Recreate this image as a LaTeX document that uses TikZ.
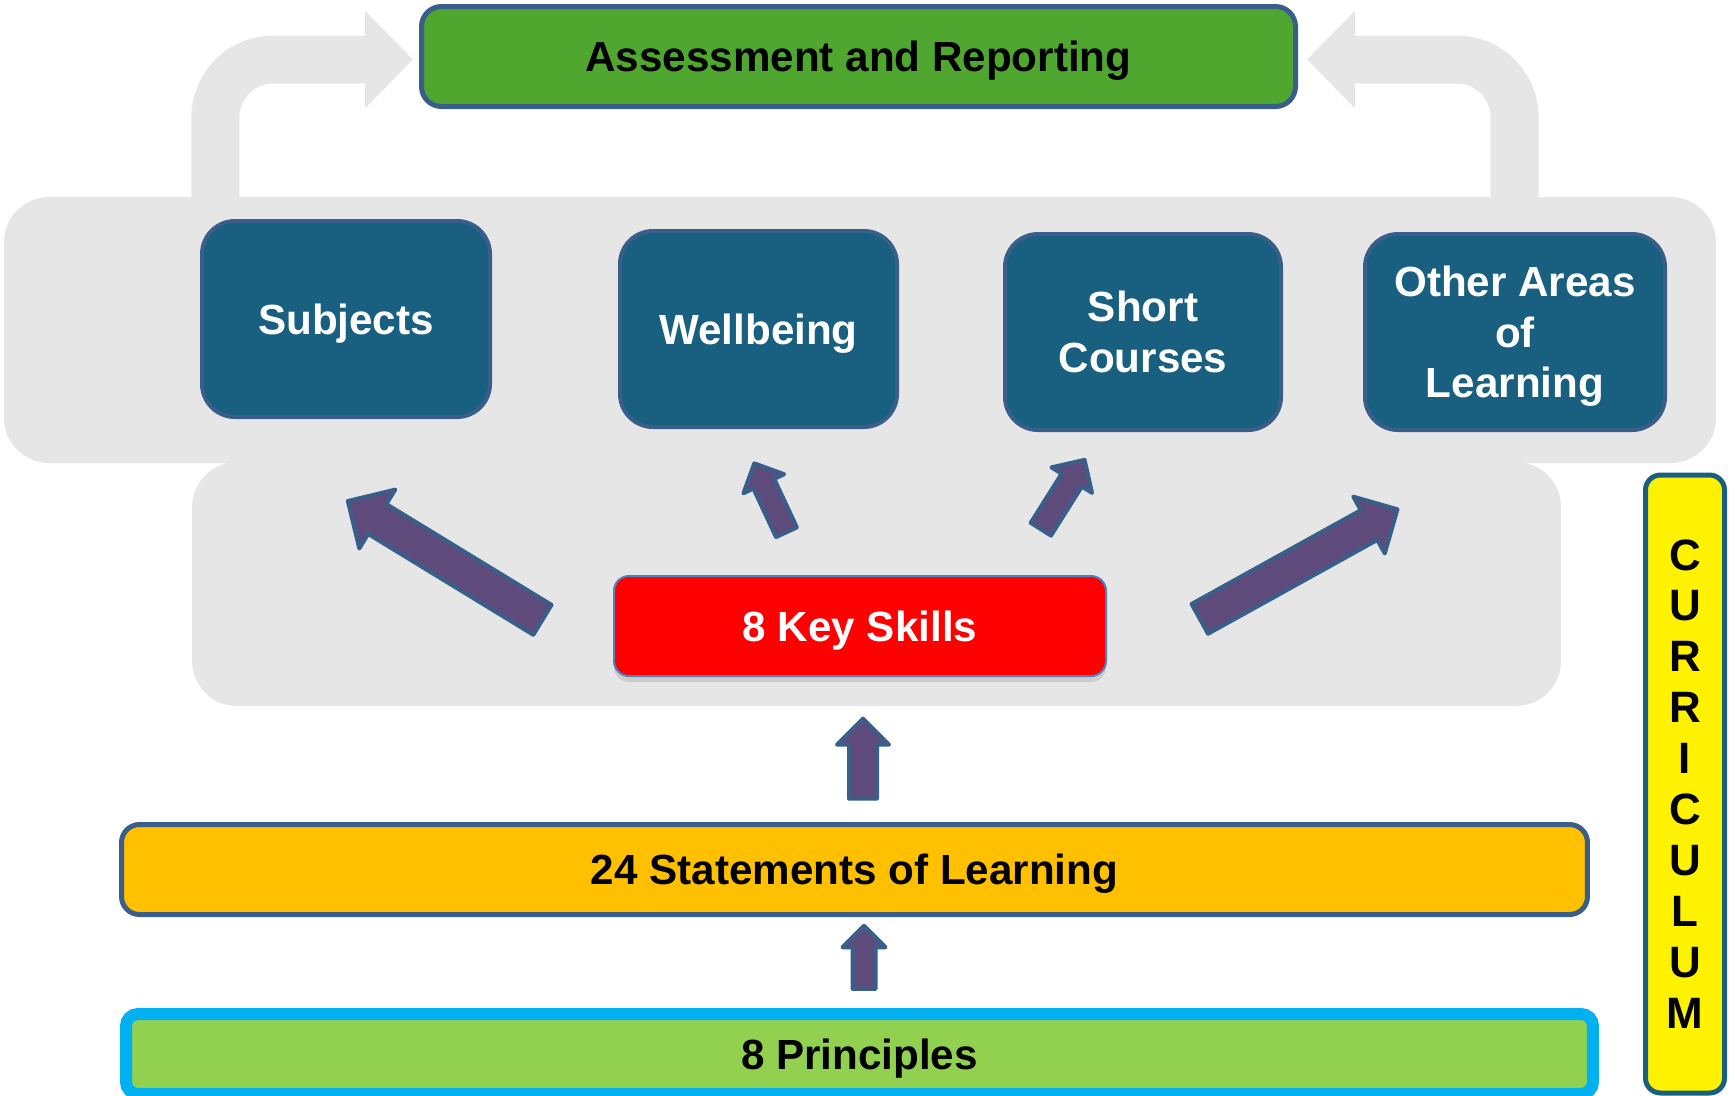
\documentclass[tikz,border=0pt]{standalone}
\usepackage{fontspec}
\setmainfont{Liberation Sans}
\usetikzlibrary{arrows.meta,shapes.arrows,shadows}
\definecolor{panelgray}{RGB}{231,230,230}
\definecolor{edgeblue}{RGB}{58,94,138}
\definecolor{areablue}{RGB}{24,95,128}
\definecolor{assessgreen}{RGB}{79,167,48}
\definecolor{arrowpurple}{RGB}{95,75,123}
\definecolor{solorange}{RGB}{255,192,0}
\definecolor{princgreen}{RGB}{146,208,80}
\definecolor{princcyan}{RGB}{0,176,240}
\definecolor{skilledge}{RGB}{79,129,189}
\definecolor{currteal}{RGB}{26,95,128}
\begin{document}
\begin{tikzpicture}[x=0.1mm, y=-0.1mm,
  txt/.style={font=\bfseries\fontsize{12}{14.4}\selectfont, align=center, inner sep=0pt, text depth=0pt},
  panel/.style={shape=rectangle, fill=panelgray, rounded corners=4.5mm, inner sep=0pt},
  area/.style={txt, shape=rectangle, draw=edgeblue, fill=areablue, line width=0.4mm, rounded corners=3.3mm, text=white, minimum height=19.6mm},
  bar/.style={txt, shape=rectangle, line width=0.5mm, rounded corners=1.8mm},
  flow/.style={draw=panelgray, line width=4.8mm, rounded corners=5.8mm, -{Triangle[length=4.8mm, width=9.5mm]}},
  push/.style={single arrow, draw=edgeblue, fill=arrowpurple, line width=0.4mm, line join=round, inner xsep=0pt, outer sep=0pt}]
\useasboundingbox (0,0) rectangle (1729,1095);
\node[bar, draw=edgeblue, fill=assessgreen, rounded corners=2mm, minimum width=87.4mm, minimum height=10mm] (assess) at (858.5,56.5) {Assessment and Reporting};
\node[panel, minimum width=136.9mm, minimum height=24.4mm] (lower) at (876.5,584) {};
\node[panel, minimum width=171.2mm, minimum height=26.6mm] (upper) at (860,330) {};
\draw[flow, shorten >=0.6mm] ([xshift=21.2mm, yshift=-1mm]upper.north west) |- ([yshift=-0.3mm]assess.west);
\draw[flow, shorten >=0.9mm] ([xshift=-20.2mm, yshift=-1mm]upper.north east) |- ([yshift=-0.3mm]assess.east);
\node[area, minimum width=28.8mm] (subjects) at (346,319) {Subjects};
\node[area, minimum width=27.7mm] (wellbeing) at (758.5,329) {Wellbeing};
\node[area, minimum width=27.6mm] (short) at (1143,332) {Short\\Courses};
\node[area, minimum width=30mm] (other) at (1515,332) {Other Areas\\of\\Learning};
\node[bar, draw=skilledge, fill=red, line width=0.2mm, rounded corners=1.5mm, text=white, minimum width=49.2mm, minimum height=10mm, drop shadow={shadow xshift=0mm, shadow yshift=-0.6mm, opacity=0.25}] (skills) at (860,626) {8 Key Skills};
\node[bar, draw=edgeblue, fill=solorange, minimum width=146.6mm, minimum height=9mm] (statements) at (854.5,869.5) {24 Statements of Learning};
\node[bar, draw=princcyan, fill=princgreen, line width=1.2mm, rounded corners=1.2mm, minimum width=146.7mm, minimum height=8mm] (principles) at (859.5,1054) {8 Principles};
\node[bar, draw=currteal, fill=yellow, rounded corners=1.5mm, font=\bfseries\fontsize{12.5}{14.5}\selectfont, minimum width=7.9mm, minimum height=61.8mm] (curriculum) at (1685,784) {C\\U\\R\\R\\I\\C\\U\\L\\U\\M};
\node[push, rotate=148.6, minimum height=22.8mm, inner ysep=1.55mm, single arrow head extend=1.7mm] (toSubjects) at (452.6,565) {};
\node[push, rotate=115, minimum height=7.6mm, inner ysep=0.95mm, single arrow head extend=1.1mm] (toWellbeing) at (772.8,503) {};
\node[push, rotate=57.8, minimum height=8.2mm, inner ysep=1mm, single arrow head extend=1.2mm] (toShort) at (1059.5,499.6) {};
\node[push, rotate=29, minimum height=22.6mm, inner ysep=1.5mm, single arrow head extend=1.55mm] (toOther) at (1291.2,568.2) {};
\node[push, rotate=90, minimum height=8mm, inner ysep=1.2mm, single arrow head extend=1.2mm] (upSkills) at (863,765.6) {};
\node[push, rotate=90, minimum height=6.3mm, inner ysep=0.95mm, single arrow head extend=1mm] (upStatements) at (864,963) {};
\end{tikzpicture}
\end{document}
